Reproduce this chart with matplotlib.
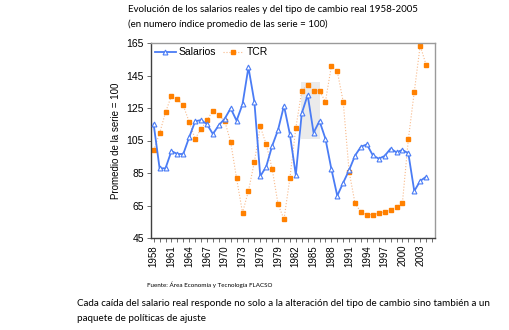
import matplotlib
matplotlib.use("Agg")
import matplotlib.pyplot as plt
from matplotlib.patches import Rectangle

years = list(range(1958, 2005))
salarios = [115.0, 87.9, 87.9, 98.5, 96.7, 96.7, 107.0, 116.8, 117.6, 115.0,
            109.0, 114.4, 118.4, 124.8, 117.2, 127.3, 150.0, 128.9, 83.0, 88.9,
            101.6, 111.5, 126.4, 108.8, 83.8, 121.7, 133.0, 109.8, 117.0, 106.1,
            87.5, 71.0, 79.0, 86.8, 95.7, 101.2, 102.6, 95.9, 93.8, 95.5,
            100.0, 97.7, 99.2, 97.1, 73.9, 80.1, 82.7]
tcr = [99.0, 109.4, 122.3, 132.6, 130.5, 126.6, 116.4, 106.1, 112.1, 117.4,
       123.4, 120.4, 117.0, 104.1, 81.7, 60.6, 73.9, 91.8, 113.7, 102.6,
       87.7, 65.9, 56.5, 81.7, 112.6, 135.5, 139.4, 135.5, 135.5, 128.9,
       150.8, 147.6, 128.9, 85.8, 66.3, 60.9, 59.4, 59.4, 60.2, 61.2,
       62.4, 64.3, 66.7, 105.7, 135.0, 163.4, 151.5]
axis_years = list(range(1958, 2006))
yticks = [45, 65, 85, 105, 125, 145, 165]

W, H = 510, 330
fig = plt.figure(figsize=(W / 100, H / 100), dpi=100)
ax = fig.add_axes([150.7 / W, 1 - 238 / H, (435 - 150.7) / W, (238 - 43) / H])

x = list(range(len(years)))
ax.add_patch(Rectangle((24.9, 105.7), 3.1, 35.3, facecolor="#ebebeb",
                       edgecolor="none", zorder=0))
ax.plot(x, salarios, color="#4a7cf5", lw=1.3, marker="^", ms=3.5,
        mfc="white", mec="#4a7cf5", mew=0.8, label="Salarios", zorder=3)
ax.plot(x, tcr, color="#f8b98a", lw=0.8, ls=":", marker="s", ms=3.5,
        mfc="#ff8000", mec="#ff8000", label="TCR", zorder=2)

ax.set_xlim(-0.5, len(axis_years) - 0.5)
ax.set_ylim(45, 165)
ax.set_yticks(yticks)
ax.set_yticklabels([str(v) for v in yticks], fontsize=7.5,
                   family=["Liberation Sans", "DejaVu Sans"])
lab_idx = list(range(0, len(axis_years), 3))
ax.set_xticks(lab_idx)
ax.set_xticklabels([str(axis_years[i]) for i in lab_idx], rotation=90,
                   fontsize=7, family=["Liberation Sans Narrow", "Liberation Sans", "DejaVu Sans"])
ax.set_xticks(list(range(len(axis_years))), minor=True)
ax.tick_params(axis="x", which="both", length=3, width=0.6, color="#555555", pad=2)
ax.tick_params(axis="y", length=3, width=0.6, color="#555555", pad=2)

for s in ["left", "bottom"]:
    ax.spines[s].set_color("#404040")
    ax.spines[s].set_linewidth(1.0)
for s in ["top", "right"]:
    ax.spines[s].set_color("#9a9a9a")
    ax.spines[s].set_linewidth(1.0)

ax.set_ylabel("Promedio de la serie = 100", fontsize=7,
              family=["Liberation Sans Narrow", "Liberation Sans", "DejaVu Sans"], labelpad=4)

leg = ax.legend(loc="upper left", ncol=2, frameon=False,
                prop={"family": ["Liberation Sans", "DejaVu Sans"], "size": 7.5},
                handlelength=2.0, columnspacing=0.6, handletextpad=0.3,
                borderaxespad=0.1, borderpad=0.3)

tfam = ["Lato", "DejaVu Sans"]
fig.text(128 / W, 1 - 10 / H,
         "Evolución de los salarios reales y del tipo de cambio real 1958-2005",
         fontsize=7.0, family=tfam, va="center", ha="left")
fig.text(128 / W, 1 - 24 / H,
         "(en numero índice promedio de las serie = 100)",
         fontsize=7.0, family=tfam, va="center", ha="left")
fig.text(147 / W, 1 - 285 / H, "Fuente: Área Economía y Tecnología FLACSO",
         fontsize=4.5, family=tfam, va="center", ha="left")
fig.text(77 / W, 1 - 304 / H,
         "Cada caída del salario real responde no solo a la alteración del tipo de cambio sino también a un",
         fontsize=7.1, family=tfam, va="center", ha="left")
fig.text(77 / W, 1 - 318.5 / H, "paquete de políticas de ajuste",
         fontsize=7.1, family=tfam, va="center", ha="left")

fig.savefig("out.png", dpi=100, facecolor="white")
